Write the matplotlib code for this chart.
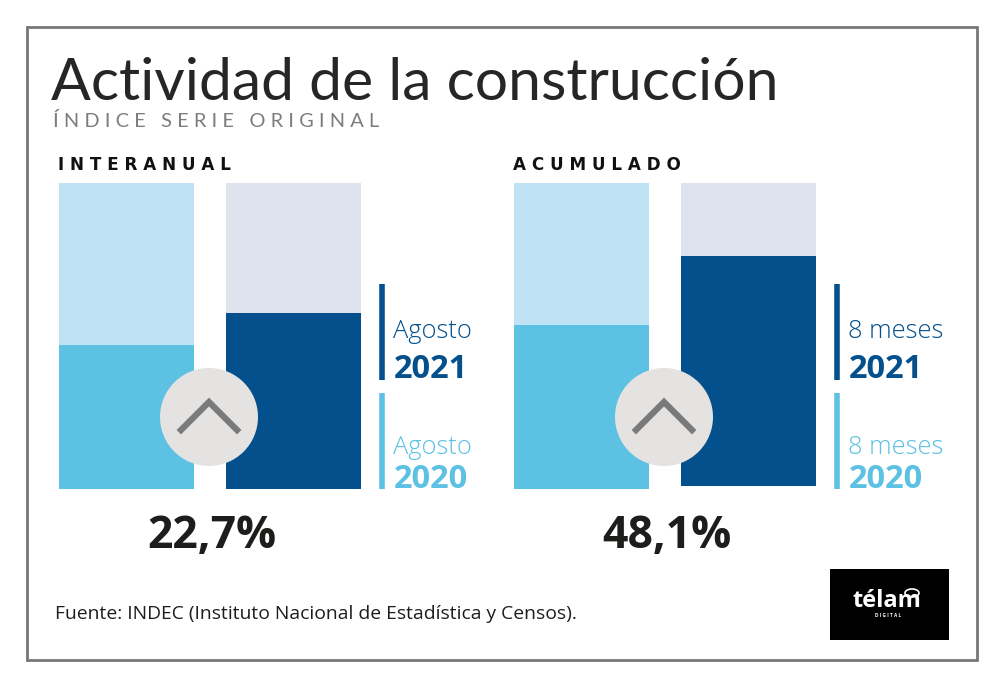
import matplotlib
matplotlib.use("Agg")
import matplotlib.pyplot as plt
from matplotlib.patches import Circle, Rectangle, Arc

W, H = 1004, 689

# values, as % of the full column height
years = ["2020", "2021"]
interanual = [47, 57.5]
acumulado = [53.6, 75]
acumulado_base = [0, 1]
variaciones = ["22,7%", "48,1%"]
meses = ["Agosto", "8 meses"]
paneles = ["INTERANUAL", "ACUMULADO"]

LIGHT_BG = ["#bfe3f4", "#dfe3ee"]
COLORS = ["#5cc1e3", "#04508c"]

plt.rcParams["font.family"] = ["Open Sans", "DejaVu Sans"]

fig = plt.figure(figsize=(W / 100, H / 100), dpi=100, facecolor="white")


def px_axes(left, top, right, bottom):
    # axes placed by reference pixel box
    return fig.add_axes([left / W, 1 - bottom / H, (right - left) / W, (bottom - top) / H])


# overlay in pixel coords for frame and text
ov = fig.add_axes([0, 0, 1, 1], zorder=5)
ov.set_xlim(0, W)
ov.set_ylim(H, 0)
ov.axis("off")
ov.patch.set_alpha(0)

ov.add_patch(Rectangle((27, 27), 950, 633, fill=False, ec="#777777", lw=2))

ov.text(51, 83, "Actividad de la construcción", fontsize=42.4, color="#262624",
        family=["Lato", "DejaVu Sans"], va="center", ha="left")
ov.text(53, 121, "Í N D I C E   S E R I E   O R I G I N A L", fontsize=14.4,
        color="#7d7d7d", family=["Lato", "DejaVu Sans"], va="center", ha="left")


def panel(x0, vals, base, name, mes, var):
    ax = px_axes(x0, 183, x0 + 302, 489)
    pos = [0, 1]
    ax.bar(pos, [100, 100], width=0.808, color=LIGHT_BG, zorder=1)
    ax.bar(pos, vals, width=0.808, bottom=base, color=COLORS, zorder=2)
    # white strip under the bar when it starts above the axis floor
    ax.bar(pos, base, width=0.808, color="white", zorder=2)
    ax.set_xlim(-0.404, 1.404)
    ax.set_ylim(0, 100)
    ax.axis("off")

    ov.text(x0 - 1, 165, " ".join(name), fontsize=12.1, fontweight="bold", color="#111111",
            family=["DejaVu Sans"], va="center", ha="left")

    # arrow badge
    cx = x0 + 150
    ov.add_patch(Circle((cx, 417), 49, fc="#e4e3e2", ec="none", zorder=3))
    ov.plot([cx - 28, cx, cx + 28], [430, 402, 430], color="#7a7a7a", lw=4.5,
            solid_joinstyle="miter", zorder=4)

    # legend bars and labels
    lx = x0 + 323
    ov.plot([lx, lx], [284, 380], color=COLORS[1], lw=4, solid_capstyle="butt")
    ov.plot([lx, lx], [393, 489], color=COLORS[0], lw=4, solid_capstyle="butt")
    ov.text(lx + 11, 331, mes, fontsize=18.4, color=COLORS[1], fontweight="light", va="center", ha="left")
    ov.text(lx + 12, 370, years[1], fontsize=23.5, fontweight="bold", color=COLORS[1],
            va="center", ha="left")
    ov.text(lx + 11, 448, mes, fontsize=18.4, color=COLORS[0], fontweight="light", va="center", ha="left")
    ov.text(lx + 12, 479, years[0], fontsize=23.5, fontweight="bold", color=COLORS[0],
            va="center", ha="left")

    ov.text(x0 + 153, 536, var, fontsize=32, fontweight="bold", color="#1d1d1b",
            va="center", ha="center")


panel(59, interanual, [0, 0], paneles[0], meses[0], variaciones[0])
panel(514, acumulado, acumulado_base, paneles[1], meses[1], variaciones[1])

ov.text(55, 614, "Fuente: INDEC (Instituto Nacional de Estadística y Censos).", fontsize=13.9,
        color="#1d1d1b", va="center", ha="left")

# logo
ov.add_patch(Rectangle((830, 569), 119, 71, fc="black", ec="none"))
ov.text(887, 601, "télam", fontsize=17, fontweight="bold", color="white", va="center", ha="center")
ov.text(888, 615.5, "D I G I T A L", fontsize=3.4, fontweight="bold", color="white", va="center", ha="center")
ov.add_patch(Arc((912, 593), 14, 8, theta1=0, theta2=360, ec="white", lw=1.2))

fig.savefig("out.png", dpi=100, facecolor="white")
